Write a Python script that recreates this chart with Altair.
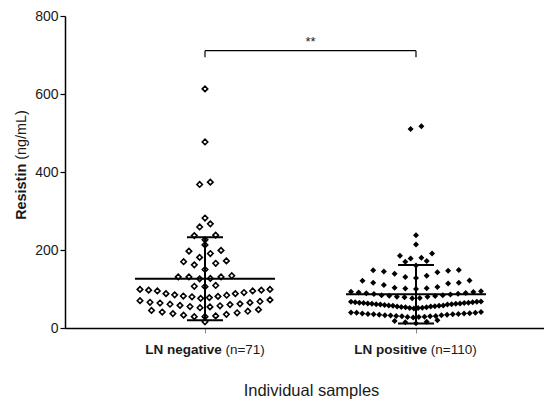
import altair as alt
import pandas as pd

# ---------------- data ----------------
group_names = ["LN negative", "LN positive"]
group_counts = ["(n=71)", "(n=110)"]

ln_negative = [613, 477, 374, 368, 282, 259, 267, 237, 238, 226, 213,
               181, 199, 191, 197, 150, 162, 166, 170, 172,
               131, 131, 126, 134, 127, 131, 107, 106, 109,
               99, 97, 95, 91, 85, 82, 80, 76, 78, 81, 84, 88, 88, 95, 97, 99,
               52, 54, 55, 57, 58, 60, 61, 62, 64, 65, 66, 68, 70, 72,
               29, 29, 31, 33, 35, 37, 39, 41, 43, 45, 47, 16]

ln_positive = [510, 517, 238, 214, 178, 180, 185, 191, 160, 170, 172,
               128, 131, 134, 139, 143, 145, 147, 148, 149,
               100, 101, 102, 103, 105, 110, 114, 116, 116, 121, 122,
               76, 77, 79, 80, 80, 82, 83, 84, 84, 86, 87, 88, 89, 90, 91, 92, 93, 94,
               50, 51, 51, 52, 53, 53, 54, 55, 55, 56, 57, 57, 58, 58, 59, 60,
               60, 61, 61, 62, 62, 63, 63, 64, 64, 65, 65, 66, 66, 67, 67, 68,
               27, 28, 28, 29, 30, 30, 31, 31, 32, 33, 33, 34, 34, 35, 35, 36,
               36, 37, 37, 38, 39, 39, 40, 41,
               12, 15, 16, 18, 20]

y_ticks = [0, 200, 400, 600, 800]
y_title_bold = "Resistin"
y_title_rest = "(ng/mL)"
x_title = "Individual samples"
sig_label = "**"

# ---------------- layout ----------------
PLOT_W, PLOT_H = 479, 312
PAD = {"left": 57, "top": 8, "right": 0, "bottom": 73}
G1_PX, G2_PX = 140, 351           # pixel centres of the two groups
PPU = (G2_PX - G1_PX) / 1.0       # pixels per x unit
X_DOMAIN = [1 - G1_PX / PPU, 1 + (PLOT_W - G1_PX) / PPU]
Y_DOMAIN = [0, 800]
FONT = "Liberation Sans"


def swarm_offsets(values, bin_h=25, s_max=10.7, w_max=130):
    """GraphPad-like scatter: bin values in rows, spread each row centre-out."""
    bins = {}
    for i, v in enumerate(values):
        bins.setdefault(int(v // bin_h), []).append(i)
    offs = [0.0] * len(values)
    for idx in bins.values():
        idx.sort(key=lambda i: values[i])
        n = len(idx)
        s = s_max if n < 2 else min(s_max, w_max / (n - 1))
        slots = [(k - (n - 1) / 2) * s for k in range(n)]
        slots.sort(key=lambda x: (abs(x), x))
        for i, off in zip(idx, slots):
            offs[i] = off
    return offs


rows = []
for g, vals in ((1, ln_negative), (2, ln_positive)):
    for v, o in zip(vals, swarm_offsets(vals)):
        rows.append({"g": g, "value": v, "xpos": g + o / PPU})
pts = pd.DataFrame(rows)

# ---- text widths (Arial metrics) for mixed bold / regular labels ----
REG = {" ": 278, "(": 333, ")": 333, "=": 584, "/": 278, "n": 556, "g": 556,
       "m": 833, "L": 556, "0": 556, "1": 556, "7": 556}
BOLD = {" ": 278, "L": 611, "N": 722, "n": 611, "e": 556, "g": 611, "a": 556,
        "t": 333, "i": 278, "v": 556, "p": 611, "o": 611, "s": 556, "R": 722}


def tw(s, size, table):
    return sum(table.get(c, 556) for c in s) * size / 1000.0


LBL_SIZE = 13.5
lab_rows = []
for g, (b, r) in enumerate(zip(group_names, group_counts), start=1):
    wb, wr, sp = tw(b, LBL_SIZE, BOLD), tw(r, LBL_SIZE, REG), tw(" ", LBL_SIZE, REG)
    total = wb + sp + wr
    bold_end = g + (wb - total / 2) / PPU
    reg_start = g + (wb + sp - total / 2) / PPU
    lab_rows.append({"bold": b, "rest": r, "xb": bold_end, "xr": reg_start})
labels = pd.DataFrame(lab_rows)


def xq(field):
    return alt.X(field, type="quantitative",
                 scale=alt.Scale(domain=X_DOMAIN, nice=False, zero=False),
                 axis=alt.Axis(values=[1, 2], labels=False, title=None, grid=False,
                               tickSize=5, tickColor="#888888", tickWidth=1,
                               domainColor="black", domainWidth=1.5))


def yq(field):
    return alt.Y(field, type="quantitative",
                 scale=alt.Scale(domain=Y_DOMAIN, nice=False, zero=False),
                 axis=alt.Axis(values=y_ticks, title=None, grid=False,
                               labelFontSize=14, labelFont=FONT, labelColor="#1a1a1a",
                               tickSize=5, labelPadding=2, tickColor="black",
                               tickWidth=1.2, domainColor="black", domainWidth=1.5))


base = alt.Chart(pts)

neg = base.transform_filter("datum.g == 1").mark_point(
    shape="diamond", filled=False, stroke="black", strokeWidth=1.6, size=30, opacity=1
).encode(x=xq("xpos"), y=yq("value"))

pos = base.transform_filter("datum.g == 2").mark_point(
    shape="diamond", filled=True, fill="black", strokeWidth=0, size=36, opacity=1
).encode(x=xq("xpos"), y=yq("value"))

stats = base.transform_aggregate(
    m="mean(value)", sd="stdev(value)", groupby=["g"]
).transform_calculate(
    lo="datum.m - datum.sd", hi="datum.m + datum.sd",
    ml=f"datum.g - {70 / PPU}", mr=f"datum.g + {70 / PPU}",
    cl=f"datum.g - {18 / PPU}", cr=f"datum.g + {18 / PPU}",
)
mean_line = stats.mark_rule(color="black", strokeWidth=2).encode(
    x=xq("ml"), x2="mr:Q", y=yq("m"))
sd_line = stats.mark_rule(color="black", strokeWidth=2).encode(
    x=xq("g"), y=yq("lo"), y2="hi:Q")
cap_hi = stats.mark_rule(color="black", strokeWidth=2).encode(
    x=xq("cl"), x2="cr:Q", y=yq("hi"))
cap_lo = stats.mark_rule(color="black", strokeWidth=2).encode(
    x=xq("cl"), x2="cr:Q", y=yq("lo"))

# significance bracket
br = pd.DataFrame({"x1": [1], "x2": [2], "y": [711], "ydrop": [694],
                   "xm": [1.5], "ys": [723], "lab": [sig_label]})
brc = alt.Chart(br)
bracket = brc.mark_rule(color="black", strokeWidth=1.2).encode(
    x=xq("x1"), x2="x2:Q", y=yq("y"))
drop1 = brc.mark_rule(color="black", strokeWidth=1.2).encode(
    x=xq("x1"), y=yq("y"), y2="ydrop:Q")
drop2 = brc.mark_rule(color="black", strokeWidth=1.2).encode(
    x=xq("x2"), y=yq("y"), y2="ydrop:Q")
stars = brc.mark_text(font=FONT, fontSize=13, baseline="alphabetic",
                      align="center", color="#1a1a1a").encode(
    x=xq("xm"), y=yq("ys"), text="lab:N")

# group labels (bold name + regular count)
lc = alt.Chart(labels)
lab_b = lc.mark_text(font=FONT, fontSize=LBL_SIZE, fontWeight="bold", align="right",
                     baseline="middle", color="#1a1a1a").encode(
    x=xq("xb"), y=alt.value(334), text="bold:N")
lab_r = lc.mark_text(font=FONT, fontSize=LBL_SIZE, fontWeight="normal", align="left",
                     baseline="middle", color="#1a1a1a").encode(
    x=xq("xr"), y=alt.value(334), text="rest:N")

# y title (bold + regular, rotated)
YT_SIZE = 14.4
wb_y, wr_y, sp_y = tw(y_title_bold, YT_SIZE, BOLD), tw(y_title_rest, YT_SIZE, REG), tw(" ", YT_SIZE, REG)
yt_center = 149
yt_bottom = yt_center + (wb_y + sp_y + wr_y) / 2
yt = pd.DataFrame({"b": [y_title_bold], "r": [y_title_rest]})
ytc = alt.Chart(yt)
ytitle_b = ytc.mark_text(font=FONT, fontSize=YT_SIZE, fontWeight="bold", angle=270,
                         align="left", baseline="middle", color="#1a1a1a").encode(
    x=alt.value(-43), y=alt.value(yt_bottom), text="b:N")
ytitle_r = ytc.mark_text(font=FONT, fontSize=YT_SIZE, fontWeight="normal", angle=270,
                         align="left", baseline="middle", color="#1a1a1a").encode(
    x=alt.value(-43), y=alt.value(yt_bottom - wb_y - sp_y), text="r:N")

xt = pd.DataFrame({"t": [x_title]})
xtitle = alt.Chart(xt).mark_text(font=FONT, fontSize=16.5, align="center",
                                 baseline="alphabetic", color="#1a1a1a").encode(
    x=alt.value(246.5), y=alt.value(380), text="t:N")

chart = alt.layer(
    neg, pos, mean_line, sd_line, cap_hi, cap_lo,
    bracket, drop1, drop2, stars, lab_b, lab_r, ytitle_b, ytitle_r, xtitle
).properties(
    width=PLOT_W, height=PLOT_H, padding=PAD,
    autosize=alt.AutoSizeParams(type="none"), background="white"
).configure_view(stroke=None)

chart.save("out.html", embed_options={"renderer": "svg", "actions": False})
